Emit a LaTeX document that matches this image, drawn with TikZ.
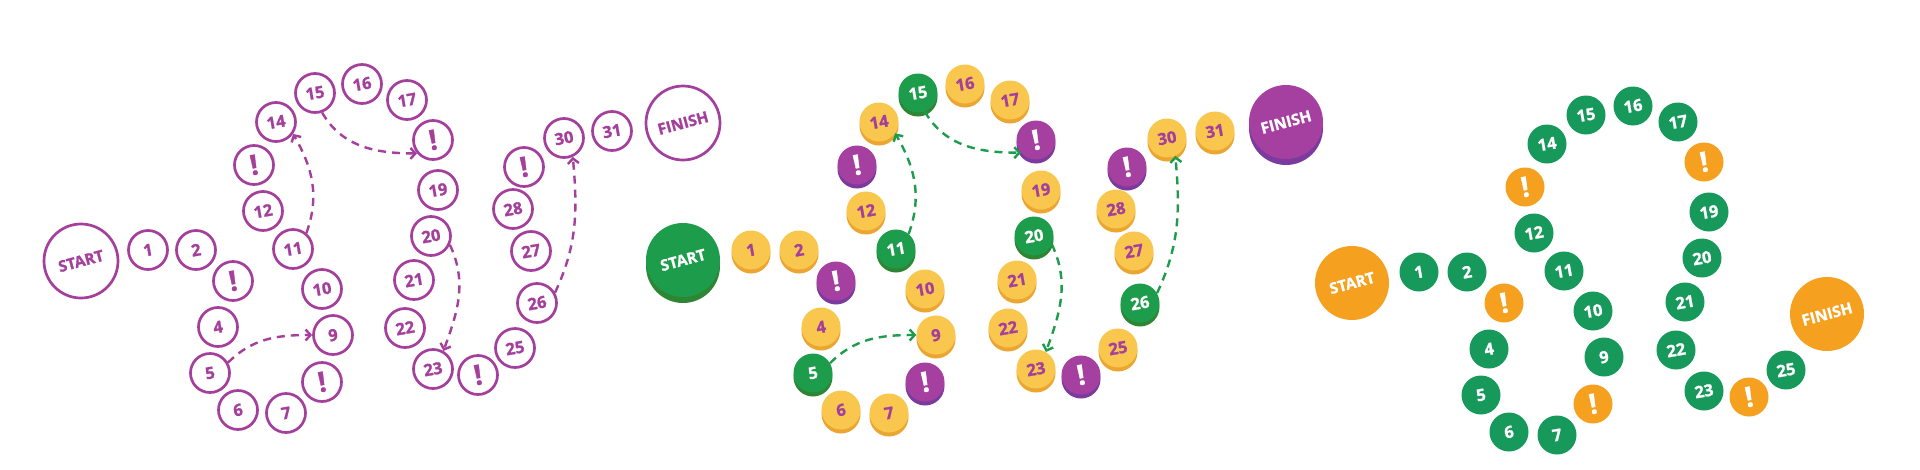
\documentclass[tikz,border=0pt]{standalone}
\usepackage{fontspec}
\setmainfont{Open Sans}[BoldFeatures={FakeBold=1.2}]
\usetikzlibrary{arrows.meta,shadows}
\definecolor{purp}{HTML}{A43F9C}
\definecolor{yel}{HTML}{F9C74E}
\definecolor{yelrim}{HTML}{EBA531}
\definecolor{grn}{HTML}{1D9C4C}
\definecolor{grnrim}{HTML}{2E8534}
\definecolor{ppl}{HTML}{A640A0}
\definecolor{pplrim}{HTML}{7A3A9E}
\definecolor{fgrn}{HTML}{16995A}
\definecolor{forg}{HTML}{F5A01E}
\newcommand{\excl}{{\fontsize{28}{28}\selectfont !}}
\newcommand{\tilt}[1]{\rotatebox{10}{#1}}
\newcommand{\btilt}[1]{\rotatebox{15}{#1}}
\def\partA{1/148/250/1/ty, 2/196/250/2/ty, 3/233/281/\excl/tp, 4/218/327/4/ty, 5/210/373/5/tg, 6/238/410/6/ty, 7/286/413/7/ty, 8/322/382/\excl/tp, 9/333/335/9/ty, 10/322/289/10/ty, 11/293/249/11/tg, 12/263/211/12/ty, 13/254/165/\excl/tp, 14/276/122/14/ty, 15/315/93/15/tg, 16/362/84/16/ty, 17/407/100/17/ty, 18/433/140/\excl/tp, 19/438/190/19/ty, 20/431/236/20/tg, 21/414/280/21/ty, 22/405/328/22/ty, 23/433/369/23/ty, 24/478/375/\excl/tp, 25/515/348/25/ty}
\def\partB{26/537/303/26/tg, 27/531/251/27/ty, 28/513/209/28/ty, 29/524/167/\excl/tp, 30/564/138/30/ty, 31/612/131/31/ty}
\tikzset{
  tile/.style={circle, inner sep=0pt, minimum size=39pt, font=\bfseries\fontsize{16.5}{17}\selectfont},
  bigtile/.style={circle, inner sep=0pt, minimum size=74pt, font=\bfseries\fontsize{15.5}{16}\selectfont},
  ring/.style={draw=purp, line width=2.7pt, text=purp, fill=white},
  coin/.style={fill=#1, general shadow={shadow yshift=-4pt, fill=#1rim}},
  bigcoin/.style={fill=#1, general shadow={shadow yshift=-6pt, fill=#1rim}},
  jump/.style={line width=2.4pt, dash pattern=on 8pt off 6pt, -{Straight Barb[length=5pt,width=11pt]}},
}
\begin{document}
\begin{tikzpicture}[x=1pt,y=1pt]
\useasboundingbox (0,0) rectangle (1920,-469);
\fill[white] (0,0) rectangle (1920,-469);
% ---------- panel 1 : outlined ----------
\begin{scope}[ty/.style={ring}, tg/.style={ring}, tp/.style={ring}]
  \node[bigtile, ring] (aS) at (81,-261) {\btilt{START}};
  \node[bigtile, ring] (aF) at (683,-123) {\btilt{FINISH}};
  \foreach \n/\x/\y/\t/\s in \partA { \node[tile,\s] (a\n) at (\x,-\y) {\tilt{\t}}; }
  \foreach \n/\x/\y/\t/\s in \partB { \node[tile,\s] (a\n) at (\x,-\y) {\tilt{\t}}; }
  \draw[jump, purp] (a5.30) to[out=45,in=180] (a9.west);
  \draw[jump, purp] (a11.50) to[out=70,in=-60] (a14.-35);
  \draw[jump, purp] (a15.-70) to[out=-60,in=180] (a18.-140);
  \draw[jump, purp] (a20.-25) to[out=-65,in=70] (a23.60);
  \draw[jump, purp] (a26.30) to[out=65,in=-85] (a30.-65);
\end{scope}
% ---------- panel 2 : coins ----------
\begin{scope}[shift={(603,0)},
  ty/.style={coin=yel, text=purp},
  tg/.style={coin=grn, text=white},
  tp/.style={coin=ppl, text=white}]
  \node[bigtile, bigcoin=grn, text=white] (bS) at (80,-260) {\btilt{START}};
  \node[bigtile, bigcoin=ppl, text=white] (bF) at (683,-122) {\btilt{FINISH}};
  \foreach \n/\x/\y/\t/\s in \partA { \node[tile,\s] (b\n) at (\x,-\y) {\tilt{\t}}; }
  \foreach \n/\x/\y/\t/\s in \partB { \node[tile,\s] (b\n) at (\x,-\y) {\tilt{\t}}; }
  \draw[jump, grn] (b5.30) to[out=45,in=180] (b9.west);
  \draw[jump, grn] (b11.50) to[out=70,in=-60] (b14.-35);
  \draw[jump, grn] (b15.-70) to[out=-60,in=180] (b18.-140);
  \draw[jump, grn] (b20.-25) to[out=-65,in=70] (b23.60);
  \draw[jump, grn] (b26.30) to[out=65,in=-85] (b30.-65);
\end{scope}
% ---------- panel 3 : flat discs ----------
\begin{scope}[shift={(1271,-22)},
  ty/.style={fill=fgrn, text=white},
  tg/.style={fill=fgrn, text=white},
  tp/.style={fill=forg, text=white}]
  \node[bigtile, fill=forg, text=white] (cS) at (81,-261) {\btilt{START}};
  \node[bigtile, fill=forg, text=white] (cF) at (556,-292) {\btilt{FINISH}};
  \foreach \n/\x/\y/\t/\s in \partA { \node[tile,\s] (c\n) at (\x,-\y) {\tilt{\t}}; }
\end{scope}
\end{tikzpicture}
\end{document}
